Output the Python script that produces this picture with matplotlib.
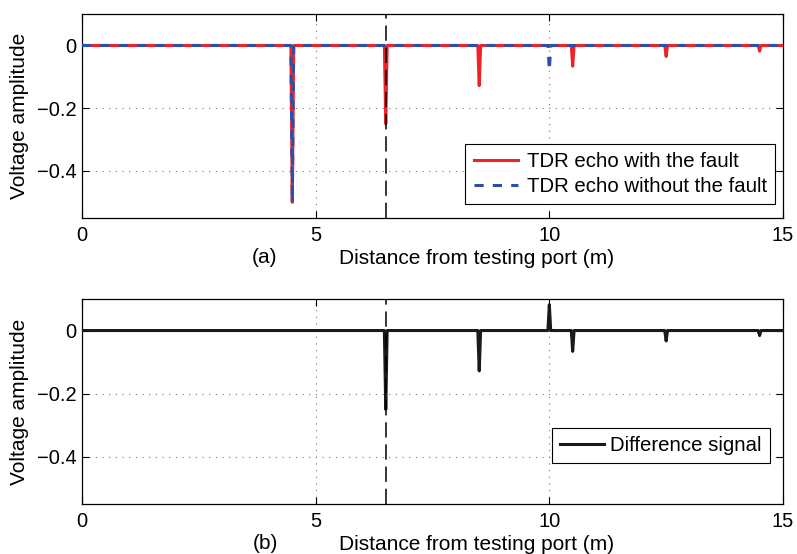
import numpy as np
import matplotlib.pyplot as plt

plt.rcParams['font.family'] = ['Liberation Sans', 'DejaVu Sans']

# pulse positions (m) and amplitudes
fault_pos = [4.5, 6.5, 8.5, 10.5, 12.5, 14.5]
fault_amp = [-0.5, -0.25, -0.128, -0.066, -0.035, -0.018]
nofault_pos = [4.5, 10.0]
nofault_amp = [-0.5, -0.08]
diff_pos = [6.5, 8.5, 10.0, 10.5, 12.5, 14.5]
diff_amp = [-0.25, -0.128, 0.082, -0.066, -0.033, -0.016]
fault_location = 6.5
x_end = 15


def pulse_train(pos, amp, half=0.03):
    xs, ys = [0.0], [0.0]
    for p, a in zip(pos, amp):
        xs += [p - half, p, p + half]
        ys += [0.0, a, 0.0]
    xs.append(x_end)
    ys.append(0.0)
    return xs, ys


def style_axes(ax, label):
    ax.set_xlim(0, 15)
    ax.set_ylim(-0.55, 0.1)
    ax.set_xticks([0, 5, 10, 15])
    ax.set_yticks([-0.4, -0.2, 0])
    ax.set_yticklabels(['\u22120.4', '\u22120.2', '0'])
    ax.tick_params(direction='in', top=True, right=True, labelsize=14.5, length=5)
    ax.tick_params(axis='x', pad=6)
    ax.tick_params(axis='y', pad=4)
    ax.grid(True, linestyle=(0, (1, 5)), color='#777777', linewidth=0.8)
    ax.axvline(fault_location, color='black', linestyle=(0, (10, 4.5)), linewidth=1.1, zorder=4)
    ax.set_ylabel('Voltage amplitude', fontsize=15)
    ax.yaxis.set_label_coords(-0.076, 0.5)
    ax.set_xlabel('Distance from testing port (m)', fontsize=15)
    ax.xaxis.set_label_coords(0.5635, -0.2)
    ax.xaxis.label.set_verticalalignment('center')
    ax.text(0.261, -0.192, label, transform=ax.transAxes, ha='center', va='center', fontsize=15)
    for s in ax.spines.values():
        s.set_linewidth(0.9)


fig = plt.figure(figsize=(7.97, 5.54), dpi=100)
ax1 = fig.add_axes([0.1029, 0.6065, 0.8795, 0.368])
ax2 = fig.add_axes([0.1029, 0.0903, 0.8795, 0.370])

x1, y1 = pulse_train(fault_pos, fault_amp)
x2, y2 = pulse_train(nofault_pos, nofault_amp)
ax1.plot(x1, y1, color='#ee2229', linewidth=2.2, label='TDR echo with the fault', zorder=3)
ax1.plot(x2, y2, color='#2e4fa8', linewidth=2.2, linestyle=(0, (3, 3)),
         label='TDR echo without the fault', zorder=3)
style_axes(ax1, '(a)')
leg1 = ax1.legend(loc='lower right', bbox_to_anchor=(0.9886, 0.0686), fontsize=14.7,
                  fancybox=False, edgecolor='black', handlelength=2.15, handletextpad=0.45,
                  borderaxespad=0, borderpad=0.4, labelspacing=0.28, framealpha=1)
leg1.get_frame().set_linewidth(0.8)

x3, y3 = pulse_train(diff_pos, diff_amp)
ax2.plot(x3, y3, color='#1a1a1a', linewidth=2.2, label='Difference signal', zorder=3)
style_axes(ax2, '(b)')
leg2 = ax2.legend(loc='lower right', bbox_to_anchor=(0.9815, 0.2), fontsize=14.7,
                  fancybox=False, edgecolor='black', handlelength=2.15, handletextpad=0.3,
                  borderaxespad=0, borderpad=0.4, framealpha=1)
leg2.get_frame().set_linewidth(0.8)

fig.savefig('out.png', dpi=100)
